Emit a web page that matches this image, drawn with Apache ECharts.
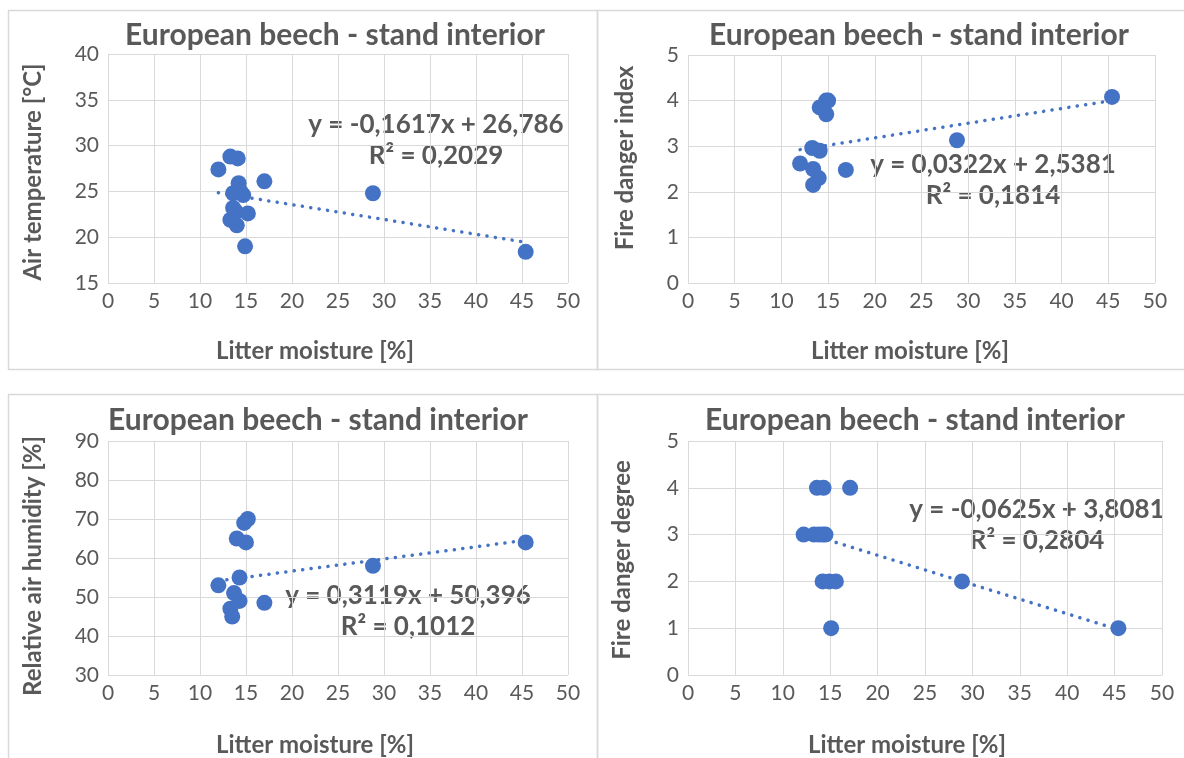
<!DOCTYPE html>
<html>
<head>
<meta charset="utf-8">
<script src="https://cdn.jsdelivr.net/npm/echarts@6/dist/echarts.min.js"></script>
<style>
  html, body { margin: 0; padding: 0; background: #ffffff; }
  #chart { width: 1184px; height: 758px; }
</style>
</head>
<body>
<div id="chart"></div>
<script>
// Litter moisture [%] vs. microclimate / fire danger, European beech stand interior
const panelTitle = 'European beech - stand interior';
const xAxisName = 'Litter moisture [%]';

// [litter moisture, air temperature]
const airTempPoints = [
  [12.0, 27.4], [13.3, 28.8], [14.1, 28.6], [14.2, 25.9], [17.0, 26.1],
  [13.6, 24.8], [14.7, 24.6], [14.4, 25.0], [13.6, 23.2], [13.9, 22.8],
  [15.2, 22.6], [13.3, 21.9], [14.0, 21.3], [14.9, 19.0], [28.8, 24.8],
  [45.4, 18.4]
];
// [litter moisture, fire danger index]
const fireIndexPoints = [
  [15.0, 4.0], [14.8, 4.0], [14.1, 3.85], [14.8, 3.7], [13.3, 2.96],
  [14.1, 2.9], [12.0, 2.62], [13.4, 2.5], [14.0, 2.3], [13.4, 2.15],
  [16.9, 2.48], [28.8, 3.13], [45.4, 4.08]
];
// [litter moisture, relative air humidity]
const humidityPoints = [
  [15.2, 70], [14.8, 69], [14.0, 65], [15.0, 64], [14.3, 55],
  [12.0, 53], [13.7, 51], [14.3, 49], [13.3, 47], [13.5, 45],
  [17.0, 48.5], [28.8, 58], [45.4, 64]
];
// [litter moisture, fire danger degree]
const degreePoints = [
  [13.6, 4], [14.3, 4], [17.1, 4], [12.2, 3], [13.3, 3], [13.8, 3],
  [14.2, 3], [14.5, 3], [14.2, 2], [14.9, 2], [15.6, 2], [28.9, 2],
  [15.1, 1], [45.4, 1]
];

// Linear trend coefficients: y = slope * x + intercept
const trendSlopes = [-0.1617, 0.0322, 0.3119, -0.0625];
const trendIntercepts = [26.786, 2.5381, 50.396, 3.8081];
const equationLines = [
  ['y = -0,1617x + 26,786', 'R\u00b2 = 0,2029'],
  ['y = 0,0322x + 2,5381', 'R\u00b2 = 0,1814'],
  ['y = 0,3119x + 50,396', 'R\u00b2 = 0,1012'],
  ['y = -0,0625x + 3,8081', 'R\u00b2 = 0,2804']
];
const yAxisNames = ['Air temperature [\u00b0C]', 'Fire danger index', 'Relative air humidity [%]', 'Fire danger degree'];
const yRanges = [[15, 40, 5], [0, 5, 1], [30, 90, 10], [0, 5, 1]];
const xRange = [0, 50, 5];

const pointSets = [airTempPoints, fireIndexPoints, humidityPoints, degreePoints];

// layout
const FONT = 'Lato, "Open Sans", sans-serif';
const TEXT = '#595959';
const GRIDLINE = '#d9d9d9';
const MARK = '#4472c4';
const grids = [
  { left: 108, top: 54, width: 460, height: 229 },
  { left: 688, top: 55, width: 467, height: 228 },
  { left: 108, top: 441, width: 460, height: 234 },
  { left: 688, top: 441, width: 474, height: 234 }
];
const titlePos = [[335, 35], [919, 35], [318, 420], [915, 420]];
const eqPos = [[436, 125, 156], [993, 165, 196], [408, 596, 627], [1037, 510, 541]];
const xNamePos = [[315, 351], [910, 351], [315, 745], [907, 745]];
const yNamePos = [[33, 172], [625, 158], [33, 566], [622, 560]];
const panels = [
  [8, 10, 589, 359], [597, 10, 600, 359],
  [8, 394, 589, 380], [597, 394, 600, 380]
];

function trendData(i) {
  const xs = pointSets[i].map(p => p[0]);
  const lo = Math.min(...xs), hi = Math.max(...xs);
  return [lo, hi].map(x => [x, trendSlopes[i] * x + trendIntercepts[i]]);
}

function label(text, x, y, size, rotation) {
  return {
    type: 'text', x: x, y: y, rotation: rotation || 0,
    style: { text: text, fill: TEXT, font: 'bold ' + size + 'px ' + FONT, textAlign: 'center', textVerticalAlign: 'middle' }
  };
}

const xAxes = [], yAxes = [], series = [], graphics = [];
for (let i = 0; i < 4; i++) {
  xAxes.push({
    type: 'value', gridIndex: i, min: xRange[0], max: xRange[1], interval: xRange[2],
    axisLine: { show: false }, axisTick: { show: false },
    splitLine: { show: true, lineStyle: { color: GRIDLINE, width: 1 } },
    axisLabel: { color: TEXT, fontFamily: FONT, fontSize: 21, margin: 8 }
  });
  yAxes.push({
    type: 'value', gridIndex: i, min: yRanges[i][0], max: yRanges[i][1], interval: yRanges[i][2],
    axisLine: { show: false }, axisTick: { show: false },
    splitLine: { show: true, lineStyle: { color: GRIDLINE, width: 1 } },
    axisLabel: { color: TEXT, fontFamily: FONT, fontSize: 21, margin: 9 }
  });
  series.push({
    type: 'line', xAxisIndex: i, yAxisIndex: i, data: trendData(i), z: 1,
    symbol: 'none', silent: true,
    lineStyle: { color: MARK, width: 3.5, type: [0.1, 8.4], cap: 'round' }
  });
  series.push({
    type: 'scatter', xAxisIndex: i, yAxisIndex: i, data: pointSets[i], z: 2,
    symbol: 'circle', symbolSize: 16,
    itemStyle: { color: MARK, opacity: 1 }
  });
  const p = panels[i];
  graphics.push({
    type: 'rect', shape: { x: p[0] + 0.5, y: p[1] + 0.5, width: p[2], height: p[3] },
    style: { fill: 'none', stroke: GRIDLINE, lineWidth: 1.5 }, z: -1
  });
  graphics.push(label(panelTitle, titlePos[i][0], titlePos[i][1], 30));
  graphics.push(label(equationLines[i][0], eqPos[i][0], eqPos[i][1], 26));
  graphics.push(label(equationLines[i][1], eqPos[i][0], eqPos[i][2], 26));
  graphics.push(label(xAxisName, xNamePos[i][0], xNamePos[i][1], 24));
  graphics.push(label(yAxisNames[i], yNamePos[i][0], yNamePos[i][1], 24, Math.PI / 2));
}

const chart = echarts.init(document.getElementById('chart'), null, { renderer: 'canvas' });
chart.setOption({
  animation: false,
  backgroundColor: '#ffffff',
  grid: grids,
  xAxis: xAxes,
  yAxis: yAxes,
  series: series,
  graphic: graphics
});
</script>
</body>
</html>
